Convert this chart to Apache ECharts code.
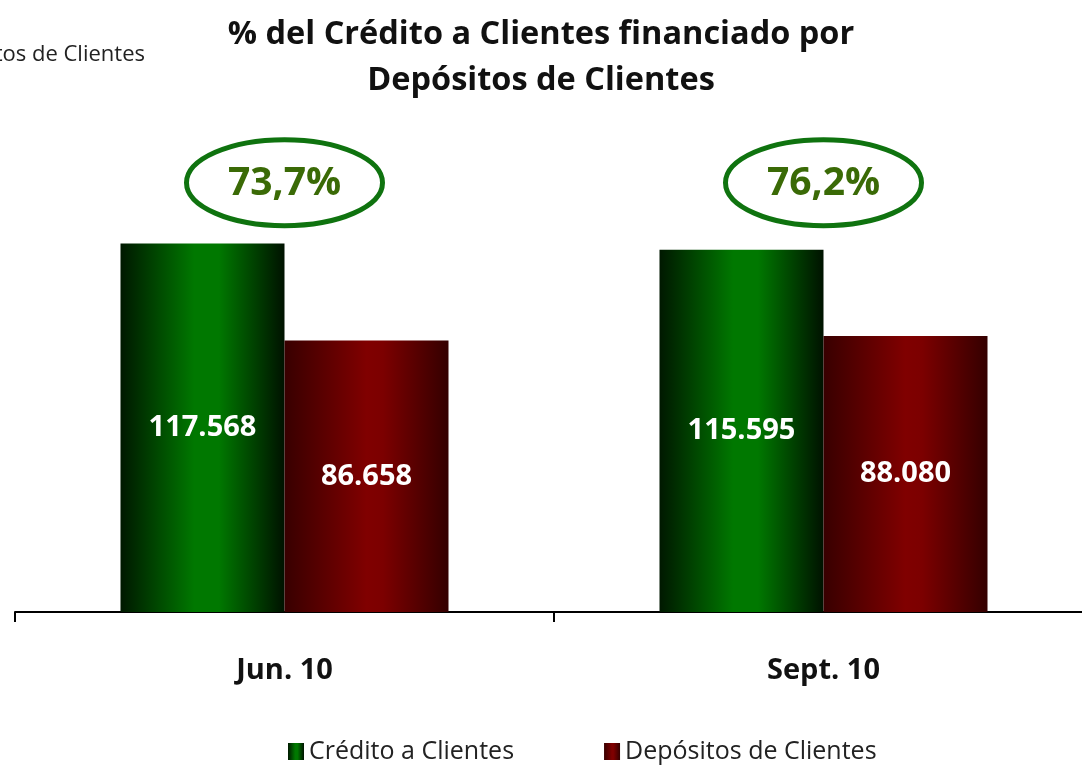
<!DOCTYPE html>
<html>
<head>
<meta charset="utf-8">
<script src="https://cdn.jsdelivr.net/npm/echarts@6/dist/echarts.min.js"></script>
<style>
  html, body { margin: 0; padding: 0; background: #fff; }
  #main { width: 1082px; height: 766px; }
</style>
</head>
<body>
<div id="main"></div>
<script>
const categories = ['Jun. 10', 'Sept. 10']
const credito = [117568, 115595]
const depositos = [86658, 88080]
const ratioLabels = ['73,7%', '76,2%']

const fmt = v => String(v).replace(/\B(?=(\d{3})+(?!\d))/g, '.')
const FONT = '"Open Sans"'

const greenGrad = new echarts.graphic.LinearGradient(0, 0, 1, 0, [
    { offset: 0, color: '#001800' },
    { offset: 0.45, color: '#007800' },
    { offset: 0.6, color: '#007800' },
    { offset: 1, color: '#001200' }
])
const redGrad = new echarts.graphic.LinearGradient(0, 0, 1, 0, [
    { offset: 0, color: '#380000' },
    { offset: 0.5, color: '#800000' },
    { offset: 0.6, color: '#7c0000' },
    { offset: 1, color: '#340000' }
])

const chart = echarts.init(document.getElementById('main'))
chart.setOption({
    animation: false,
    title: {
        text: '% del Crédito a Clientes financiado por\nDepósitos de Clientes',
        left: 'center',
        top: 7,
        textStyle: {
            fontFamily: FONT,
            fontSize: 32.5,
            fontWeight: 'bold',
            color: '#111',
            lineHeight: 46
        }
    },
    graphic: [{
        type: 'text',
        right: 937,
        top: 44,
        style: {
            text: 'Depósitos de Clientes',
            font: '22px ' + FONT,
            fill: '#222'
        }
    }],
    legend: {
        top: 734,
        left: 283,
        icon: 'rect',
        itemWidth: 16,
        itemHeight: 17,
        itemGap: 90,
        textStyle: { fontFamily: FONT, fontSize: 25, color: '#222' },
        data: ['Crédito a Clientes', 'Depósitos de Clientes']
    },
    grid: {
        left: 15,
        top: 142,
        width: 1078,
        height: 470,
        outerBoundsMode: 'none',
        containLabel: false
    },
    xAxis: {
        type: 'category',
        data: categories,
        axisLine: { lineStyle: { color: '#000', width: 2 } },
        axisTick: { show: true, length: 10, lineStyle: { color: '#000', width: 2 } },
        axisLabel: {
            margin: 44,
            fontFamily: FONT,
            fontSize: 29,
            fontWeight: 'bold',
            color: '#111'
        }
    },
    yAxis: {
        type: 'value',
        min: 0,
        max: 150000,
        show: false
    },
    series: [{
        name: 'Crédito a Clientes',
        type: 'bar',
        data: credito,
        barWidth: 164,
        barGap: '0%',
        itemStyle: { color: greenGrad },
        label: {
            show: true,
            position: 'inside',
            formatter: p => fmt(p.value),
            fontFamily: FONT,
            fontSize: 29,
            fontWeight: 'bold',
            color: '#fff'
        }
    }, {
        name: 'Depósitos de Clientes',
        type: 'bar',
        data: depositos,
        barWidth: 164,
        itemStyle: { color: redGrad },
        label: {
            show: true,
            position: 'inside',
            formatter: p => fmt(p.value),
            fontFamily: FONT,
            fontSize: 29,
            fontWeight: 'bold',
            color: '#fff'
        }
    }, {
        type: 'custom',
        data: ratioLabels.map((r, i) => [i, 137000]),
        z: 10,
        renderItem: (params, api) => {
            const c = api.coord([api.value(0), api.value(1)])
            return {
                type: 'group',
                children: [{
                    type: 'ellipse',
                    shape: { cx: c[0], cy: c[1], rx: 98, ry: 43 },
                    style: { fill: 'none', stroke: '#0f730f', lineWidth: 5 }
                }, {
                    type: 'text',
                    x: c[0],
                    y: c[1] + 1,
                    style: {
                        text: ratioLabels[params.dataIndex],
                        align: 'center',
                        verticalAlign: 'middle',
                        font: 'bold 39px ' + FONT,
                        fill: '#3a6a06'
                    }
                }]
            }
        }
    }]
})
</script>
</body>
</html>
